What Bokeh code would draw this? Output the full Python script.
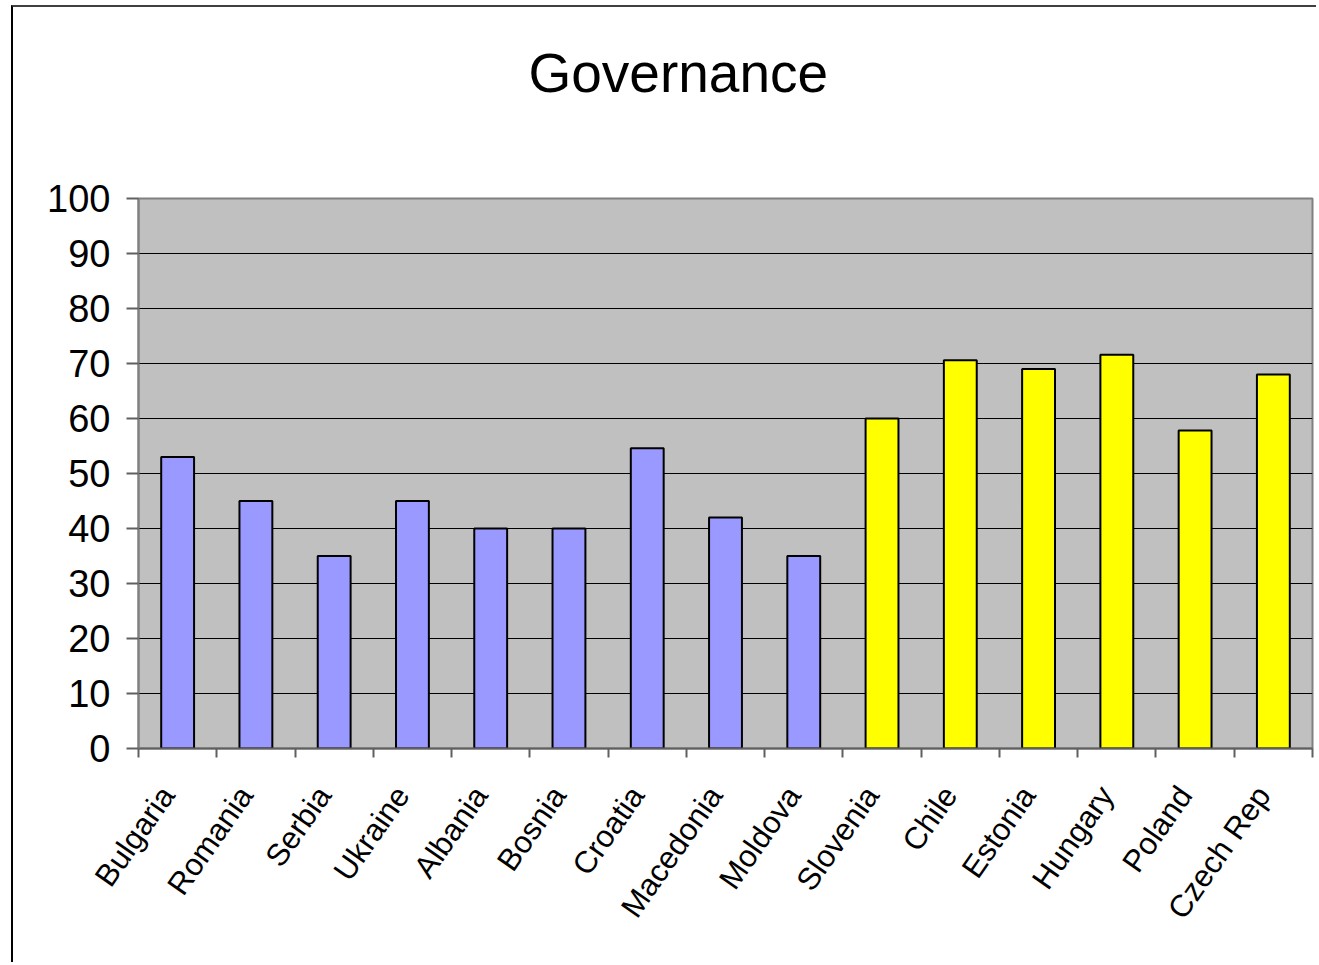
import math
from bokeh.plotting import figure
from bokeh.models import ColumnDataSource, Range1d, FixedTicker, Title
from bokeh.embed import file_html
from bokeh.resources import INLINE

countries = ["Bulgaria", "Romania", "Serbia", "Ukraine", "Albania", "Bosnia", "Croatia",
             "Macedonia", "Moldova", "Slovenia", "Chile", "Estonia", "Hungary", "Poland", "Czech Rep"]
values = [53, 45, 35, 45, 40, 40, 54.6, 42, 35, 60, 70.6, 69, 71.6, 57.8, 68]
group_colors = ["#9999FF"] * 9 + ["#FFFF00"] * 6
y_ticks = list(range(0, 101, 10))
title_text = "Governance"

xs = [i + 0.5 for i in range(len(countries))]
label_pos = [x - 0.13 for x in xs]
src = ColumnDataSource(dict(x=xs, top=values, color=group_colors, name=countries))

FONT = "Liberation Sans"

p = figure(width=1305, height=957, output_backend="svg", toolbar_location=None, title=None,
           x_range=Range1d(0, len(countries)), y_range=Range1d(0, 100),
           min_border_left=125, min_border_top=191, min_border_right=6, min_border_bottom=216,
           background_fill_color="#C0C0C0", border_fill_color="white",
           styles={"border-top": "2px solid #404040", "border-left": "2px solid #000000",
                   "margin-left": "11px", "margin-top": "5px"})

# spacer (nearest the frame) then the real title above it
p.add_layout(Title(text=" ", text_font=FONT, text_font_size="20px", standoff=66), "above")
p.add_layout(Title(text=title_text, text_font=FONT, text_font_size="55px",
                   text_font_style="normal", text_color="black", align="left", offset=390,
                   standoff=10), "above")

p.vbar(x="x", top="top", width=0.42, bottom=0, source=src, fill_color="color",
       line_color="black", line_width=2)

p.outline_line_color = "#808080"
p.outline_line_width = 2

p.xgrid.grid_line_color = None
p.ygrid.ticker = FixedTicker(ticks=y_ticks)
p.ygrid.grid_line_color = "black"
p.ygrid.grid_line_width = 1

yax = p.yaxis[0]
yax.ticker = FixedTicker(ticks=y_ticks)
yax.axis_line_color = "#808080"
yax.axis_line_width = 2
yax.major_tick_line_color = "#606060"
yax.major_tick_line_width = 2
yax.major_tick_out = 12
yax.major_tick_in = 0
yax.minor_tick_line_color = None
yax.major_label_text_font = FONT
yax.major_label_text_font_size = "38px"
yax.major_label_text_color = "black"
yax.major_label_standoff = 16

xax = p.xaxis[0]
xax.ticker = FixedTicker(ticks=label_pos, minor_ticks=list(range(len(countries) + 1)))
xax.major_label_overrides = {x: c for x, c in zip(label_pos, countries)}
xax.axis_line_color = "#606060"
xax.axis_line_width = 2
xax.major_tick_line_color = None
xax.major_tick_out = 0
xax.major_tick_in = 0
xax.minor_tick_line_color = "#606060"
xax.minor_tick_line_width = 2
xax.minor_tick_out = 9
xax.minor_tick_in = 0
xax.major_label_orientation = math.radians(55)
xax.major_label_text_font = FONT
xax.major_label_text_font_size = "31px"
xax.major_label_text_color = "black"
xax.major_label_standoff = 32

open("out.html", "w").write(file_html(p, INLINE))
